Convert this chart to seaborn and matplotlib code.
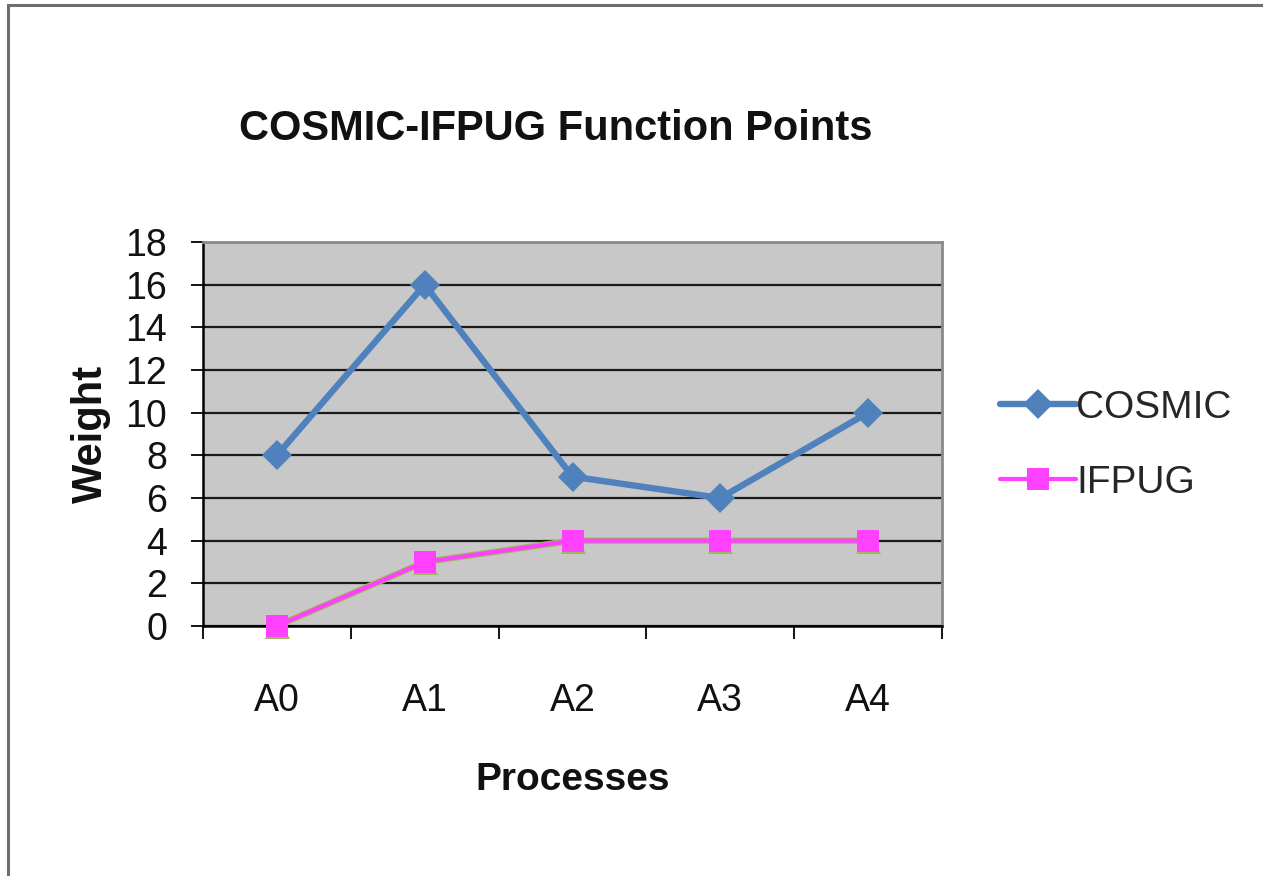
import matplotlib
matplotlib.use("Agg")
import matplotlib.pyplot as plt
from matplotlib.patches import Rectangle
import numpy as np
import pandas as pd
import seaborn as sns

categories = ["A0", "A1", "A2", "A3", "A4"]
cosmic = [8, 16, 7, 6, 10]
ifpug = [0, 3, 4, 4, 4]
hidden_series = [0, 3, 4, 4, 4]  # green triangles peeking from behind IFPUG
y_ticks = [0, 2, 4, 6, 8, 10, 12, 14, 16, 18]

sns.set_theme(style="white")
plt.rcParams["font.family"] = ["Liberation Sans", "DejaVu Sans"]

W, H = 1263, 876
fig = plt.figure(figsize=(W / 100, H / 100), dpi=100)
ax = fig.add_axes([203 / W, 1 - 626 / H, (942 - 203) / W, (626 - 242) / H])

# figure border (cut at right/bottom)
fig.patches.append(Rectangle((8 / W, -0.05), 1.2, 1 - 5 / H + 0.05,
                             transform=fig.transFigure, fill=False,
                             edgecolor="#6e6e6e", linewidth=2.2, zorder=0))

ax.set_facecolor("#c8c8c8")

df = pd.DataFrame({"cat": categories, "COSMIC": cosmic, "IFPUG": ifpug, "hidden": hidden_series})

sns.lineplot(data=df, x="cat", y="hidden", ax=ax, color="#9bbb59", linewidth=4.6,
             marker="^", markersize=18, markeredgewidth=0, sort=False, legend=False, zorder=3)
sns.lineplot(data=df, x="cat", y="IFPUG", ax=ax, color="#ff40ff", linewidth=3.0,
             marker="s", markersize=16, markeredgewidth=0, sort=False, label="IFPUG", zorder=4)
sns.lineplot(data=df, x="cat", y="COSMIC", ax=ax, color="#4f81bd", linewidth=4.6,
             marker="D", markersize=15, markeredgewidth=0, sort=False, label="COSMIC", zorder=5)
for ln in ax.lines:
    ln.set_clip_on(False)

ax.set_xlim(-0.5, len(categories) - 0.5)
ax.set_ylim(0, 18)
ax.set_yticks(y_ticks)
ax.set_yticklabels([str(v) for v in y_ticks])
ax.yaxis.grid(True, color="#1a1a1a", linewidth=1.6)
ax.set_axisbelow(True)
ax.xaxis.grid(False)

ax.set_xticks(range(len(categories)))
ax.set_xticklabels(categories)
ax.set_xticks(np.arange(-0.5, len(categories), 1.0), minor=True)
ax.tick_params(axis="x", which="major", length=0, pad=41, labelsize=27, labelcolor="#111111")
ax.tick_params(axis="x", which="minor", length=9, width=1.3, color="black", direction="out", bottom=True)
ax.tick_params(axis="y", which="major", length=9, width=1.3, color="black", direction="out",
               left=True, pad=17, labelsize=27, labelcolor="#111111")

for s in ["left", "bottom"]:
    ax.spines[s].set_color("black")
    ax.spines[s].set_linewidth(1.8)
for s in ["top", "right"]:
    ax.spines[s].set_color("#8a8a8a")
    ax.spines[s].set_linewidth(2.0)

ax.set_xlabel("Processes", fontsize=28, fontweight="bold", labelpad=31, color="#111111")
ax.set_ylabel("Weight", fontsize=30, fontweight="bold", labelpad=10, color="#111111")

fig.text(556 / W, 1 - 129 / H, "COSMIC-IFPUG Function Points", ha="center", va="center",
         fontsize=30, fontweight="bold", color="#111111")

handles, labels = ax.get_legend_handles_labels()
order = [labels.index("COSMIC"), labels.index("IFPUG")]
leg = ax.legend([handles[i] for i in order], [labels[i] for i in order],
                loc="center left", bbox_to_anchor=(1.058, 0.47), frameon=False,
                fontsize=28, handlelength=1.95, handletextpad=0.0, labelspacing=1.0,
                borderaxespad=0)

fig.savefig("out.png", dpi=100)
